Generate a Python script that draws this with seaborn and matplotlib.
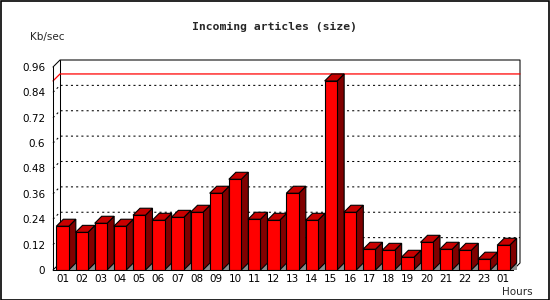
import numpy as np
import pandas as pd
import matplotlib
matplotlib.use("Agg")
import matplotlib.pyplot as plt
import seaborn as sns
from matplotlib.patches import Polygon, Rectangle
from matplotlib.lines import Line2D

# ---- data ----
hours = ["01", "02", "03", "04", "05", "06", "07", "08", "09", "10", "11", "12",
         "13", "14", "15", "16", "17", "18", "19", "20", "21", "22", "23", "01"]
values = [0.207, 0.178, 0.221, 0.207, 0.259, 0.235, 0.249, 0.273, 0.363, 0.429,
          0.240, 0.235, 0.363, 0.235, 0.894, 0.273, 0.098, 0.093, 0.060, 0.131,
          0.098, 0.093, 0.051, 0.117]
y_ticks = [0, 0.12, 0.24, 0.36, 0.48, 0.6, 0.72, 0.84, 0.96]
title = "Incoming articles (size)"
y_label = "Kb/sec"
x_label = "Hours"

sns.set_style("white")
plt.rcParams["font.family"] = ["DejaVu Sans"]

W, H = 550, 300
fig = plt.figure(figsize=(W / 100, H / 100), dpi=100)
fig.patch.set_facecolor("white")

# axes: front plane, x from px 53..513, y from px 270 (0) .. 67 (0.96)
ax = fig.add_axes([53 / W, (H - 270) / H, 460 / W, 203 / H])
ax.patch.set_alpha(0)

df = pd.DataFrame({"pos": list(range(len(hours))), "val": values})
sns.barplot(data=df, x="pos", y="val", color="#ff0000", saturation=1,
            width=0.65, edgecolor="black", linewidth=0.8, ax=ax, zorder=3)

xmin, xmax = -0.5, len(hours) - 0.5
ymin, ymax = 0, 0.96
ax.set_xlim(xmin, xmax)
ax.set_ylim(ymin, ymax)

# depth offset (7 px right and up) in data units
pos = ax.get_position()
ax_w_px = pos.width * W
ax_h_px = pos.height * H
dx = 7 * (xmax - xmin) / ax_w_px
dy = 7 * (ymax - ymin) / ax_h_px

lw = 0.75

# back frame and grid
ax.add_line(Line2D([xmin, xmin + dx, xmax + dx, xmax + dx, xmax],
                   [ymax, ymax + dy, ymax + dy, dy, 0],
                   color="black", lw=lw, clip_on=False, zorder=1))
ax.add_line(Line2D([xmin + dx, xmin + dx], [dy, ymax + dy],
                   color="black", lw=lw, clip_on=False, zorder=1))
ax.add_line(Line2D([xmin, xmin + dx], [0, dy],
                   color="black", lw=lw, clip_on=False, zorder=1))
for v in y_ticks[1:-1]:
    ax.add_line(Line2D([xmin, xmin + dx, xmax + dx], [v, v + dy, v + dy],
                       color="black", lw=lw, ls=(0, (2, 3)), clip_on=False, zorder=1))

# max line
vmax = max(values)
ax.add_line(Line2D([xmin, xmin + dx, xmax + dx], [vmax, vmax + dy, vmax + dy],
                   color="#ff0000", lw=0.9, clip_on=False, zorder=1.5))

# 3D sides and tops
for p in ax.patches[:len(values)]:
    x0 = p.get_x()
    x1 = x0 + p.get_width()
    yt = p.get_height()
    ax.add_patch(Polygon([(x1, 0), (x1 + dx, 0), (x1 + dx, dy)], closed=True,
                         facecolor="#8c8c8c", edgecolor="none", zorder=2, clip_on=False))
    ax.add_patch(Polygon([(x1, 0), (x1 + dx, dy), (x1 + dx, yt + dy), (x1, yt)],
                         closed=True, facecolor="#800000", edgecolor="black",
                         lw=0.8, zorder=2.5, clip_on=False))
    ax.add_patch(Polygon([(x0, yt), (x1, yt), (x1 + dx, yt + dy), (x0 + dx, yt + dy)],
                         closed=True, facecolor="#c80000", edgecolor="black",
                         lw=0.8, zorder=2.5, clip_on=False))

# axes styling
for s in ["top", "right"]:
    ax.spines[s].set_visible(False)
for s in ["left", "bottom"]:
    ax.spines[s].set_color("black")
    ax.spines[s].set_linewidth(lw)
    ax.spines[s].set_zorder(4)

ax.set_xticks(list(range(len(hours))))
ax.set_xticklabels(hours)
ax.set_xticks(np.arange(xmin, xmax + 0.01, 1.0), minor=True)
ax.tick_params(axis="x", which="major", length=0, pad=3.0, labelsize=7.5, colors="black")
ax.tick_params(axis="x", which="minor", length=3.2, width=lw, color="black", direction="out")
ax.set_yticks(y_ticks)
ax.set_yticklabels(["%g" % v for v in y_ticks])
ax.tick_params(axis="y", which="major", length=3.0, width=lw, pad=2.5,
               labelsize=7.5, colors="black", direction="out")
ax.set_xlabel("")
ax.set_ylabel("")

# texts
fig.text(274 / W, 1 - 27 / H, title, ha="center", va="center",
         fontsize=8.2, fontweight="bold", family="DejaVu Sans Mono")
fig.text(30 / W, 1 - 37 / H, y_label, ha="left", va="center", fontsize=7.5)
fig.text(533 / W, 1 - 292 / H, x_label, ha="right", va="center", fontsize=7.5)

# outer frame
fig.patches.append(Rectangle((0.8 / W, 0.5 / H), (W - 1.8) / W, (H - 1.2) / H,
                             transform=fig.transFigure, fill=False,
                             edgecolor="black", lw=1.2, zorder=10))

fig.savefig("out.png", dpi=100, facecolor="white")
